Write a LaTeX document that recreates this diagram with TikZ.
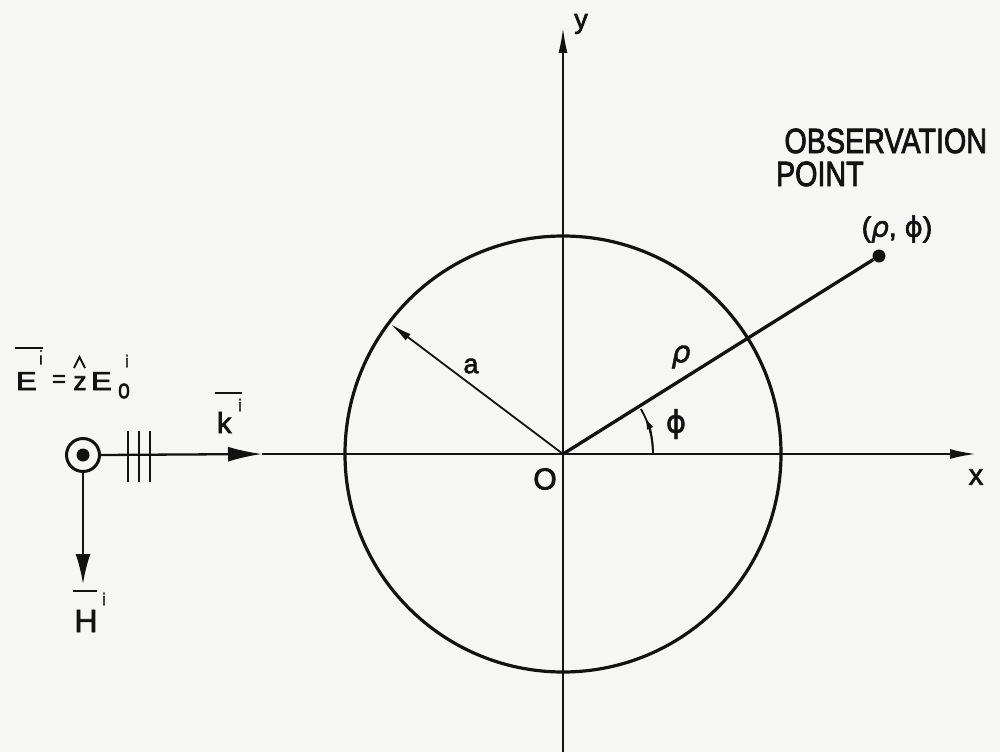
\documentclass[tikz,border=0pt]{standalone}
\usepackage{fontspec}
\usepackage{graphicx}
\setmainfont{Liberation Sans}[FakeBold=2.5]
\newfontfamily\dvs{DejaVu Sans}[FakeBold=1.5]
\usetikzlibrary{arrows.meta}
\definecolor{ink}{RGB}{18,18,18}
\definecolor{bgc}{RGB}{246,246,244}
\tikzset{
  axisline/.style={draw=ink,line width=2.3pt},
  circline/.style={draw=ink,line width=3.2pt},
  radline/.style={draw=ink,line width=1.8pt},
  rholine/.style={draw=ink,line width=3.3pt},
  tickline/.style={draw=ink,line width=2.2pt},
  barline/.style={draw=ink,line width=1.8pt},
  lbl/.style={text=ink,inner sep=0pt,outer sep=0pt},
}
\newcommand{\fs}[1]{\fontsize{#1}{#1}\selectfont}
\begin{document}
\begin{tikzpicture}[x=1pt,y=1pt]
\useasboundingbox[fill=bgc] (0,0) rectangle (1000,-752);
% origin and circle
\coordinate (O) at (563,-454);
\draw[circline] (O) circle[radius=218pt];
% y axis
\coordinate (ybot) at (563,-752);
\coordinate (ytop) at (563,-27);
\draw[axisline,-{Latex[length=26pt,width=9pt]}] (ybot) -- (ytop);
% source
\node[circle,draw=ink,line width=3pt,minimum size=33pt,inner sep=0pt] (src) at (83,-455) {};
\fill[ink] (src.center) circle[radius=6.5pt];
\coordinate (kt) at (262,-454);
\coordinate (xend) at (976,-454);
\draw[axisline,-{Latex[length=34pt,width=15pt]}] (src.east) -- (kt);
\draw[axisline,-{Latex[length=26pt,width=10pt]}] (kt) -- (xend);
\foreach \t in {128,139,150} \draw[tickline] (\t,-431) -- (\t,-482);
\coordinate (ht) at (83,-584);
\draw[axisline,-{Latex[length=30pt,width=15pt]}] (src.south) -- (ht);
% radius a
\coordinate (A) at ([shift={(143:216pt)}]O);
\draw[radline,-{Latex[length=22pt,width=8pt]}] (O) -- (A);
% observation point
\node[circle,fill=ink,inner sep=0pt,minimum size=13pt] (P) at (879,-256) {};
\draw[rholine] (O) -- (P);
% phi arc
\draw[radline] ([shift={(0:90pt)}]O) arc[start angle=0,end angle=30,radius=90pt];
\draw[radline,-{Latex[length=12pt,width=7pt]}] ([shift={(0:90pt)}]O) arc[start angle=0,end angle=24,radius=90pt];
% labels
\node[lbl] (ylab) at (581,-24) {\fs{27}y};
\node[lbl] (xlab) at (976,-477) {\fs{29}x};
\node[lbl] (Olab) at (545,-479) {\fs{30}O};
\node[lbl] (alab) at (471,-366) {\fs{27}a};
\node[lbl] (rholab) at (681,-357) {\fs{30}\dvs\itshape ρ};
\node[lbl] (philab) at (676,-424) {\fs{31}\dvs ϕ};
\node[lbl,anchor=base east] (obs) at (987,-153) {\fs{35}\scalebox{0.82}[1]{OBSERVATION}};
\node[lbl,anchor=base west] (pt) at (776,-186) {\fs{35}\scalebox{0.82}[1]{POINT}};
\node[lbl] (coord) at (897,-229) {\fs{28}({\dvs\itshape ρ}, {\dvs ϕ})};
% E label
\node[lbl,anchor=base west] (E1) at (16,-390) {\fs{26}\scalebox{1.2}[1]{E}};
\node[lbl] (E1i) at (41,-360) {\fs{17}ı};
\fill[ink] (41,-351) circle[radius=1.2pt];
\draw[barline] (15,-348) -- (43,-348);
\node[lbl] (eq) at (59,-381) {\fs{24}=};
\node[lbl,anchor=base] (zz) at (80,-390) {\fs{26}z};
\draw[barline] (74,-368) -- (79.5,-357) -- (85,-368);
\node[lbl,anchor=base west] (E2) at (91,-390) {\fs{26}\scalebox{1.2}[1]{E}};
\node[lbl] (E2sub) at (124,-391) {\fs{21}0};
\node[lbl] (E2sup) at (127,-361) {\fs{17}i};
% k label
\node[lbl,anchor=base west] (klab) at (217,-433) {\fs{29}k};
\node[lbl] (ksup) at (240,-405) {\fs{17}i};
\draw[barline] (215,-393) -- (242,-393);
% H label
\node[lbl,anchor=base] (Hlab) at (86,-632) {\fs{32}H};
\node[lbl] (Hsup) at (104,-599) {\fs{17}i};
\draw[barline] (73,-591) -- (97,-591);
\end{tikzpicture}
\end{document}
